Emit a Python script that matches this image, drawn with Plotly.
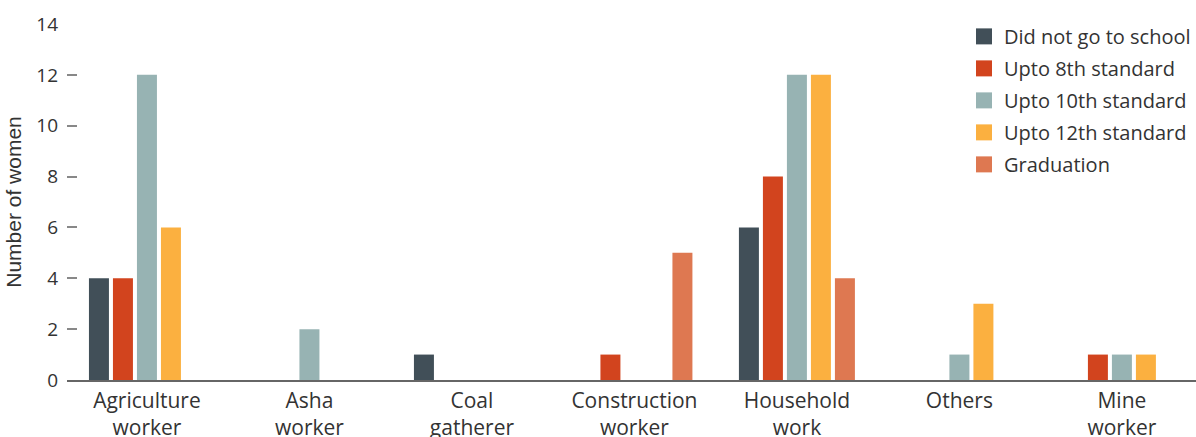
import plotly.graph_objects as go

categories = ["Agriculture<br>worker", "Asha<br>worker", "Coal<br>gatherer", "Construction<br>worker",
              "Household<br>work", "Others", "Mine<br>worker"]
series_names = ["Did not go to school", "Upto 8th standard", "Upto 10th standard",
                "Upto 12th standard", "Graduation"]
no_school = [4, 0, 1, 0, 6, 0, 0]
upto_8th = [4, 0, 0, 1, 8, 0, 1]
upto_10th = [12, 2, 0, 0, 12, 1, 1]
upto_12th = [6, 0, 0, 0, 12, 3, 1]
graduation = [0, 0, 0, 5, 4, 0, 0]
y_ticks = [0, 2, 4, 6, 8, 10, 12, 14]

series_values = [no_school, upto_8th, upto_10th, upto_12th, graduation]
colors = ["#414f58", "#d2441e", "#97b3b3", "#fbb040", "#de7851"]

FONT = "Open Sans"
TXT = "#333333"

fig = go.Figure()
for name, vals, col in zip(series_names, series_values, colors):
    fig.add_trace(go.Bar(x=categories, y=vals, name=name, marker_color=col,
                         marker_line_width=0, showlegend=False))
for name, col in zip(series_names, colors):
    fig.add_trace(go.Scatter(x=[None], y=[None], mode="markers", name=name,
                             legendgroup=name,
                             marker=dict(symbol="square", size=17, color=col),
                             showlegend=True))

fig.update_layout(
    width=1196, height=437,
    margin=dict(l=67, r=0, t=24, b=57),
    paper_bgcolor="white", plot_bgcolor="white",
    barmode="group", bargap=0.2615, bargroupgap=0.167,
    font=dict(family=FONT, color=TXT, size=20),
    legend=dict(xref="paper", yref="paper", x=0.7945, y=1.02,
                xanchor="left", yanchor="top", font=dict(size=20, color=TXT),
                bgcolor="rgba(0,0,0,0)", tracegroupgap=3, itemwidth=30),
    xaxis=dict(range=[-0.492, 6.456], showline=True, linecolor="#666666", linewidth=1.5,
               ticks="", showgrid=False, tickfont=dict(size=21, color=TXT), zeroline=False,
               ticklabelstandoff=1, automargin=False),
    yaxis=dict(range=[0, 14], tickvals=y_ticks, ticks="inside", ticklen=10, tickwidth=1.5,
               tickcolor="#888888", showgrid=False, zeroline=False, showline=False,
               tickfont=dict(size=19, color=TXT), ticklabelstandoff=8, automargin=False,
               title=dict(text="Number of women", font=dict(family="Liberation Sans", size=21, color=TXT),
                          standoff=8)),
)

fig.write_html("out.html")
